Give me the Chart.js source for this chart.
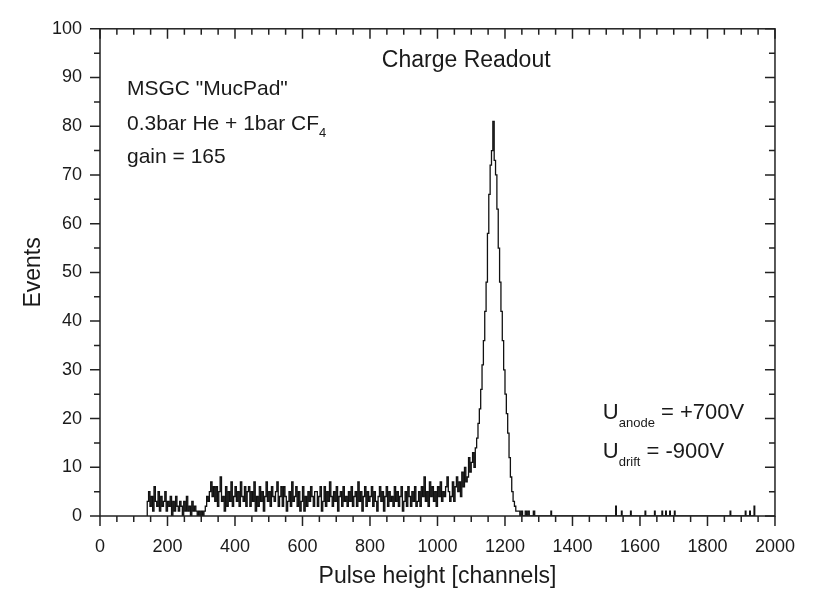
<!DOCTYPE html>
<html>
<head>
<meta charset="utf-8">
<script src="https://cdn.jsdelivr.net/npm/chart.js@4.4.1/dist/chart.umd.min.js"></script>
<style>
  html, body { margin: 0; padding: 0; background: #fff; }
  #wrap { width: 815px; height: 590px; }
</style>
</head>
<body>
<div id="wrap"><canvas id="spectrum"></canvas></div>
<script>
// histogram bins: first channel and bin width (channels)
const binStart = 140;
const binWidth = 4;

// counts per bin, one row = 100 channels
const countsLow = [
  3, 5, 2, 4, 1, 6, 3, 2, 5, 1, 4, 2, 3, 5, 1, 3, 2, 4, 0, 3, 1, 4, 2, 1, 3,   // 140-236
  2, 0, 3, 1, 4, 1, 2, 0, 3, 1, 2, 1, 0, 1, 0, 1, 0, 1, 2, 4, 3, 5, 7, 4, 6    // 240-336
];
const countsFlat = [
  3, 6, 2, 5, 8, 3, 4, 1, 6, 2, 5, 3, 7, 2, 4, 6, 3, 5, 2, 7, 4, 3, 6, 2, 5,   // 340-436
  6, 2, 5, 3, 7, 1, 4, 2, 6, 3, 5, 1, 4, 7, 3, 5, 2, 6, 4, 3, 5, 7, 2, 4, 6,   // 440-536
  2, 6, 4, 1, 3, 5, 2, 7, 3, 4, 6, 2, 5, 1, 3, 6, 1, 4, 2, 5, 3, 6, 4, 2, 5,   // 540-636
  5, 2, 4, 6, 1, 3, 6, 2, 5, 3, 7, 4, 2, 5, 3, 6, 1, 4, 5, 2, 6, 3, 4, 2, 5,   // 640-736
  3, 6, 2, 4, 5, 2, 7, 3, 5, 1, 4, 6, 2, 5, 3, 4, 6, 2, 5, 3, 1, 4, 6, 3, 5,   // 740-836
  1, 4, 6, 2, 5, 3, 4, 2, 6, 3, 5, 2, 4, 6, 1, 3, 5, 2, 6, 4, 2, 5, 3, 6, 2,   // 840-936
  3, 5, 2, 6, 4, 8, 3, 5, 2, 7, 4, 6, 3, 5, 2, 6, 4, 7, 3, 5, 4, 6, 8, 5, 3    // 940-1036
];
const countsPeak = [
  4, 7, 3, 6, 8, 5, 7, 4, 9, 6, 10, 7, 8, 12, 9, 11, 13, 10, 14, 16, 19, 22, 26, 31, 36,          // 1040-1136
  42, 48, 58, 66, 72, 75, 81, 73, 70, 63, 55, 48, 42, 36, 30, 25, 21, 17, 12, 8, 5, 3, 2, 1, 1,  // 1140-1236
  1, 0, 1, 0, 0, 1, 0, 1, 0, 0, 0, 1, 0, 0, 0                                                    // 1240-1296
];

// isolated single events above the peak
const tailChannels = [1336, 1528, 1545, 1572, 1615, 1643, 1665, 1676, 1688, 1702, 1867, 1912, 1925, 1938];
const tailCounts   = [1, 2, 1, 1, 1, 1, 1, 1, 1, 1, 1, 1, 1, 2];

const xTickValues = [0, 200, 400, 600, 800, 1000, 1200, 1400, 1600, 1800, 2000];
const yTickValues = [0, 10, 20, 30, 40, 50, 60, 70, 80, 90, 100];

const FONT = '"Liberation Sans", Arial, Helvetica, sans-serif';
const INK = '#1a1a1a';

// build the step outline of the histogram
const counts = countsLow.concat(countsFlat, countsPeak);
const points = [{ x: binStart, y: 0 }];
counts.forEach((c, i) => points.push({ x: binStart + i * binWidth, y: c }));
points.push({ x: binStart + counts.length * binWidth, y: 0 });
tailChannels.forEach((ch, i) => {
    points.push({ x: ch, y: tailCounts[i] });
    points.push({ x: ch + 2, y: 0 });
});

// text written inside the plot, anchored in data units
function drawRun(ctx, parts, left, base) {
    let cx = left;
    parts.forEach(p => {
        ctx.font = p.size + 'px ' + FONT;
        ctx.fillText(p.text, cx, base + (p.dy || 0));
        cx += ctx.measureText(p.text).width;
    });
}

const frameAndTicks = {
    id: 'frameAndTicks',
    afterDatasetsDraw(chart) {
        const { ctx, chartArea: a, scales: { x, y } } = chart;
        ctx.save();
        ctx.strokeStyle = '#222';
        ctx.lineWidth = 1.5;
        ctx.strokeRect(a.left, a.top, a.right - a.left, a.bottom - a.top);

        ctx.beginPath();
        for (let v = 0; v <= 2000; v += 50) {
            const px = x.getPixelForValue(v);
            const len = v % 200 === 0 ? 10 : 6;
            ctx.moveTo(px, a.bottom); ctx.lineTo(px, a.bottom + len);
            ctx.moveTo(px, a.top); ctx.lineTo(px, a.top + len);
        }
        for (let v = 0; v <= 100; v += 5) {
            const py = y.getPixelForValue(v);
            const len = v % 10 === 0 ? 10 : 6;
            ctx.moveTo(a.left, py); ctx.lineTo(a.left - len, py);
            ctx.moveTo(a.right, py); ctx.lineTo(a.right - len, py);
        }
        ctx.stroke();

        ctx.fillStyle = INK;
        ctx.textAlign = 'left';
        ctx.textBaseline = 'alphabetic';

        drawRun(ctx, [{ text: 'Charge Readout', size: 23 }], x.getPixelForValue(835), y.getPixelForValue(92.2));

        const lx = x.getPixelForValue(80);
        drawRun(ctx, [{ text: 'MSGC "MucPad"', size: 21 }], lx, y.getPixelForValue(86.4));
        drawRun(ctx, [{ text: '0.3bar He + 1bar CF', size: 21 }, { text: '4', size: 13, dy: 7 }], lx, y.getPixelForValue(79.2));
        drawRun(ctx, [{ text: 'gain = 165', size: 21 }], lx, y.getPixelForValue(72.5));

        const ux = x.getPixelForValue(1490);
        drawRun(ctx, [{ text: 'U', size: 22 }, { text: 'anode', size: 13, dy: 8 }, { text: ' = +700V', size: 22 }], ux, y.getPixelForValue(19.9));
        drawRun(ctx, [{ text: 'U', size: 22 }, { text: 'drift', size: 13, dy: 8 }, { text: ' = -900V', size: 22 }], ux, y.getPixelForValue(11.9));

        ctx.restore();
    }
};

new Chart(document.getElementById('spectrum').getContext('2d'), {
    type: 'line',
    data: {
        datasets: [{
            label: 'Charge Readout',
            data: points,
            stepped: 'before',
            borderColor: '#111',
            borderWidth: 1.3,
            pointRadius: 0,
            fill: false
        }]
    },
    options: {
        responsive: true,
        maintainAspectRatio: false,
        animation: false,
        events: [],
        layout: { padding: { top: 17, right: 37, left: 0, bottom: 0 } },
        plugins: {
            legend: { display: false },
            tooltip: { enabled: false }
        },
        scales: {
            x: {
                type: 'linear',
                min: 0,
                max: 2000,
                afterBuildTicks: s => { s.ticks = xTickValues.map(v => ({ value: v })); },
                afterFit: s => { s.height = 74; },
                grid: { display: false, drawTicks: false, tickLength: 0 },
                border: { display: false },
                ticks: { padding: 20, color: INK, font: { family: FONT, size: 18 }, maxRotation: 0, callback: v => String(v) },
                title: { display: true, text: 'Pulse height [channels]', color: INK, font: { family: FONT, size: 23 }, padding: { top: 0, bottom: 0 } }
            },
            y: {
                type: 'linear',
                min: 0,
                max: 100,
                afterBuildTicks: s => { s.ticks = yTickValues.map(v => ({ value: v })); },
                afterFit: s => { s.width = 100; },
                grid: { display: false, drawTicks: false, tickLength: 0 },
                border: { display: false },
                ticks: { padding: 18, color: INK, font: { family: FONT, size: 18 }, callback: v => String(v) },
                title: { display: true, text: 'Events', color: INK, font: { family: FONT, size: 23 }, padding: { top: 20, bottom: 0 } }
            }
        }
    },
    plugins: [frameAndTicks]
});
</script>
</body>
</html>
